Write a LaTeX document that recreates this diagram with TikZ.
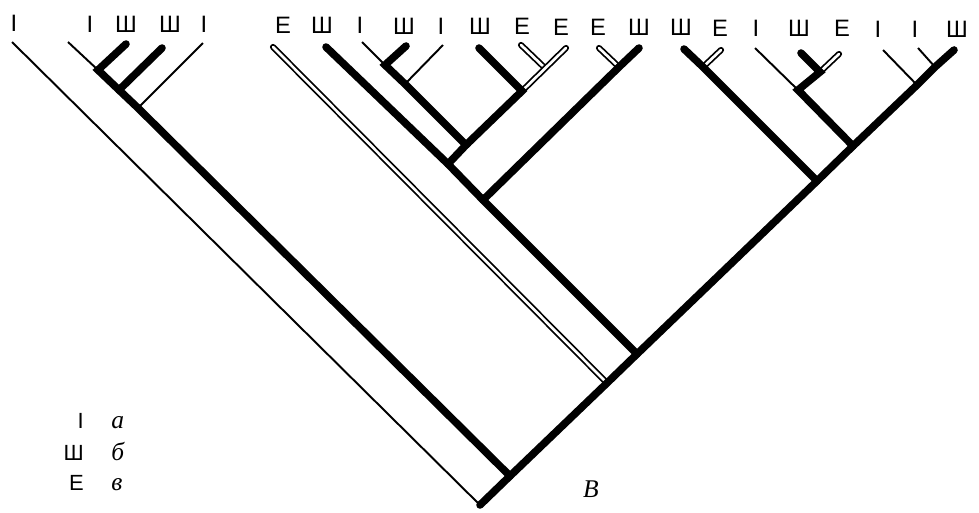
\documentclass[tikz,border=0pt]{standalone}
\usepackage{fontspec}
\newfontfamily\tipfont{Liberation Sans}
\newfontfamily\keyfont{Liberation Serif}
\usetikzlibrary{positioning}

\begin{document}
\begin{tikzpicture}[x=0.02cm, y=-0.02cm,
    tiplabel/.style={font=\tipfont\fontsize{13.5}{16}\selectfont, inner sep=0pt},
    keysym/.style={font=\tipfont\fontsize{12.5}{14}\selectfont, inner sep=0pt, anchor=base east},
    keyname/.style={font=\keyfont\itshape\fontsize{14.5}{17}\selectfont, inner sep=0pt, anchor=base west},
    narrow/.style={line width=1.1pt},
    wide/.style={line width=4.3pt, line cap=round},
    hollow/.style={line width=1pt, double=white, double distance=1.5pt, line cap=round}
]
    \useasboundingbox (0,0) rectangle (979,512);

    % tip labels
    \node[tiplabel] (l1) at (14,23) {I};
    \node[tiplabel] (l2) at (90,24) {I};
    \node[tiplabel] (l3) at (126,24) {Ш};
    \node[tiplabel] (l4) at (170,24) {Ш};
    \node[tiplabel] (l5) at (204,24) {I};
    \node[tiplabel] (l6) at (283,25) {Е};
    \node[tiplabel] (l7) at (322,25) {Ш};
    \node[tiplabel] (l8) at (360,25) {I};
    \node[tiplabel] (l9) at (404,26) {Ш};
    \node[tiplabel] (l10) at (441,26) {I};
    \node[tiplabel] (l11) at (480,26) {Ш};
    \node[tiplabel] (l12) at (522,26) {Е};
    \node[tiplabel] (l13) at (561,27) {Е};
    \node[tiplabel] (l14) at (598,27) {Е};
    \node[tiplabel] (l15) at (639,27) {Ш};
    \node[tiplabel] (l16) at (681,27) {Ш};
    \node[tiplabel] (l17) at (720,28) {Е};
    \node[tiplabel] (l18) at (756,28) {I};
    \node[tiplabel] (l19) at (799,28) {Ш};
    \node[tiplabel] (l20) at (842,28) {Е};
    \node[tiplabel] (l21) at (878,29) {I};
    \node[tiplabel] (l22) at (915,29) {I};
    \node[tiplabel] (l23) at (957,29) {Ш};

    % branch tops
    \coordinate (t1) at (12,42);
    \coordinate (t2) at (68,42);
    \coordinate (t3) at (126,44);
    \coordinate (t4) at (162,48);
    \coordinate (t5) at (203,43);
    \coordinate (t6) at (273,47);
    \coordinate (t7) at (326,47);
    \coordinate (t8) at (362,42);
    \coordinate (t9) at (406,46);
    \coordinate (t10) at (443,45);
    \coordinate (t11) at (479,48);
    \coordinate (t12) at (521,45);
    \coordinate (t13) at (566,48);
    \coordinate (t14) at (599,48);
    \coordinate (t15) at (639,48);
    \coordinate (t16) at (684,49);
    \coordinate (t17) at (721,50);
    \coordinate (t18) at (755,48);
    \coordinate (t19) at (801,53);
    \coordinate (t20) at (839,54);
    \coordinate (t21) at (883,50);
    \coordinate (t22) at (918,48);
    \coordinate (t23) at (954,50);

    % forks
    \coordinate (r) at (480,505);
    \coordinate (nA) at (510,476);
    \coordinate (nB) at (607,383);
    \coordinate (nC) at (637,354);
    \coordinate (nD) at (817,181);
    \coordinate (nE) at (853,146);
    \coordinate (nF) at (917,85);
    \coordinate (nG) at (935,67);
    \coordinate (p1) at (98,70);
    \coordinate (p2) at (119,90);
    \coordinate (p3) at (138,108);
    \coordinate (q7) at (448,164);
    \coordinate (q7b) at (483,200);
    \coordinate (q8) at (385,65);
    \coordinate (q8b) at (405,84);
    \coordinate (q8c) at (466,145);
    \coordinate (q11) at (545,68);
    \coordinate (q11b) at (522,91);
    \coordinate (q14) at (619,67);
    \coordinate (s16) at (703,67);
    \coordinate (s18) at (798,90);
    \coordinate (s19) at (820,72);

    % thin branches
    \draw[narrow] (t1) -- (r);
    \draw[narrow] (t2) -- (p1);
    \draw[narrow] (t5) -- (p3);
    \draw[narrow] (t8) -- (q8);
    \draw[narrow] (t10) -- (q8b);
    \draw[narrow] (t18) -- (s18);
    \draw[narrow] (t21) -- (nF);
    \draw[narrow] (t22) -- (nG);

    % open branches
    \draw[hollow] (t6) -- (nB);
    \draw[hollow] (t12) -- (q11);
    \draw[hollow] (t13) -- (q11b);
    \draw[hollow] (t14) -- (q14);
    \draw[hollow] (t17) -- (s16);
    \draw[hollow] (t20) -- (s19);

    % heavy branches
    \draw[wide] (r) -- (nA) -- (nB) -- (nC) -- (nD) -- (nE) -- (nF) -- (nG) -- (t23);
    \draw[wide] (t3) -- (p1) -- (p2) -- (p3) -- (nA);
    \draw[wide] (t4) -- (p2);
    \draw[wide] (t7) -- (q7) -- (q7b) -- (nC);
    \draw[wide] (t9) -- (q8) -- (q8b) -- (q8c) -- (q7);
    \draw[wide] (t11) -- (q11b) -- (q8c);
    \draw[wide] (t15) -- (q14) -- (q7b);
    \draw[wide] (t16) -- (s16) -- (nD);
    \draw[wide] (t19) -- (s19) -- (s18) -- (nE);

    % key
    \node[keysym] (k1) at (84,428) {I};
    \node[keysym] (k2) at (84,460) {Ш};
    \node[keysym] (k3) at (84,490) {Е};
    \node[keyname] (ka) at (111,428) {а};
    \node[keyname] (kb) at (111,460) {б};
    \node[keyname] (kc) at (111,490) {в};

    \node[keyname, anchor=base] (root) at (591,497) {В};
\end{tikzpicture}
\end{document}
